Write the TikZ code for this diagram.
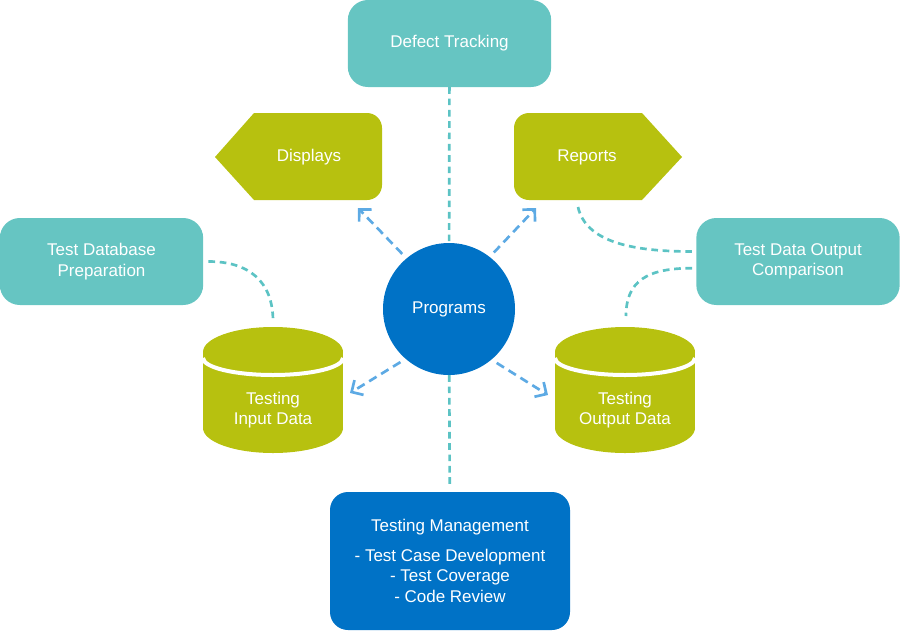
\documentclass[tikz,border=0pt]{standalone}
\usepackage{fontspec}
\setmainfont{Liberation Sans}
\usetikzlibrary{arrows.meta,positioning}
\definecolor{tealbox}{HTML}{66C5C2}
\definecolor{limebox}{HTML}{B7C10F}
\definecolor{progblue}{HTML}{0072C6}
\definecolor{arrblue}{HTML}{5DAAE4}
\definecolor{linkteal}{HTML}{5CC3C4}

\begin{document}
\begin{tikzpicture}[x=0.3mm, y=-0.3mm,
    box/.style={rounded corners=6mm, fill=tealbox, text=white, align=center, minimum width=61mm, minimum height=26.1mm},
    note/.style={text=white, align=center},
    link/.style={linkteal, line width=0.8mm, dash pattern=on 2mm off 1.4mm},
    arr/.style={arrblue, line width=0.8mm, dash pattern=on 2.6mm off 1.6mm, -{Straight Barb[length=2.6mm, width=5.2mm]}, shorten <=1.8mm},
    font=\fontsize{14.5}{17.5}\selectfont
  ]
    \useasboundingbox (0,0) rectangle (900,640);

    % boxes
    \node[box] (dt) at (449.5,43.5) {Defect Tracking};
    \node[box] (tdp) at (101.5,261.5) {Test Database\\Preparation};
    \node[box] (tdoc) at (798,261.5) {Test Data Output\\Comparison};
    \node[circle, fill=progblue, text=white, minimum size=39.6mm] (prog) at (449,309) {Programs};
    \node[box, fill=progblue, rounded corners=5.4mm, minimum width=72mm, minimum height=41.4mm] (tm) at (450,561)
      {Testing Management\\[2.6mm] - Test Case Development\\ - Test Coverage\\ - Code Review};

    % arrow shapes
    \fill[limebox] (215,157) -- (254,113) -- (367,113) arc[start angle=90, end angle=0, radius=4.5mm]
      -- (382,185) arc[start angle=0, end angle=-90, radius=4.5mm] -- (254,200) -- cycle;
    \fill[limebox] (529,113) -- (642,113) -- (682,157) -- (642,200) -- (529,200)
      arc[start angle=270, end angle=180, radius=4.5mm] -- (514,128) arc[start angle=180, end angle=90, radius=4.5mm] -- cycle;
    \node[note] (disp) at (309,157) {Displays};
    \node[note] (rep) at (587,157) {Reports};

    % cylinders
    \foreach \x in {273,625} {
      \fill[limebox] (\x-70,352) rectangle (\x+70,428);
      \fill[limebox] (\x,428) ellipse [x radius=21mm, y radius=7.5mm];
      \fill[limebox] (\x,352) ellipse [x radius=21mm, y radius=7.5mm];
      \draw[white, line width=1.2mm] (\x-70,358) arc[start angle=180, end angle=360, x radius=21mm, y radius=5.1mm];
    }
    \node[note] (tin) at (273,410) {Testing\\Input Data};
    \node[note] (tout) at (625,410) {Testing\\Output Data};

    \coordinate (tintop) at (273,321);
    \coordinate (touttop) at (626,316);
    \coordinate (repfoot) at (578,207);
    \coordinate (dispend) at (358,208);
    \coordinate (repend) at (536,208);
    \coordinate (tinend) at (350,393);
    \coordinate (toutend) at (548,395);

    % teal links
    \draw[link] (dt) -- (prog);
    \draw[link, shorten >=2mm] (prog) -- (tm);
    \draw[link] ([xshift=1.5mm]tdp.east) .. controls +(40,0) and +(0,-40) .. (tintop);
    \draw[link] (repfoot) .. controls +(8,35) and +(-60,0) .. ([xshift=-1.2mm, yshift=3mm]tdoc.west);
    \draw[link] ([xshift=-1.2mm, yshift=-2mm]tdoc.west) .. controls +(-45,0) and +(0,-35) .. (touttop);

    % blue arrows
    \draw[arr] (prog.130) -- (dispend);
    \draw[arr] (prog.52) -- (repend);
    \draw[arr] (prog.229) -- (tinend);
    \draw[arr] (prog.310) -- (toutend);
  \end{tikzpicture}
\end{document}
